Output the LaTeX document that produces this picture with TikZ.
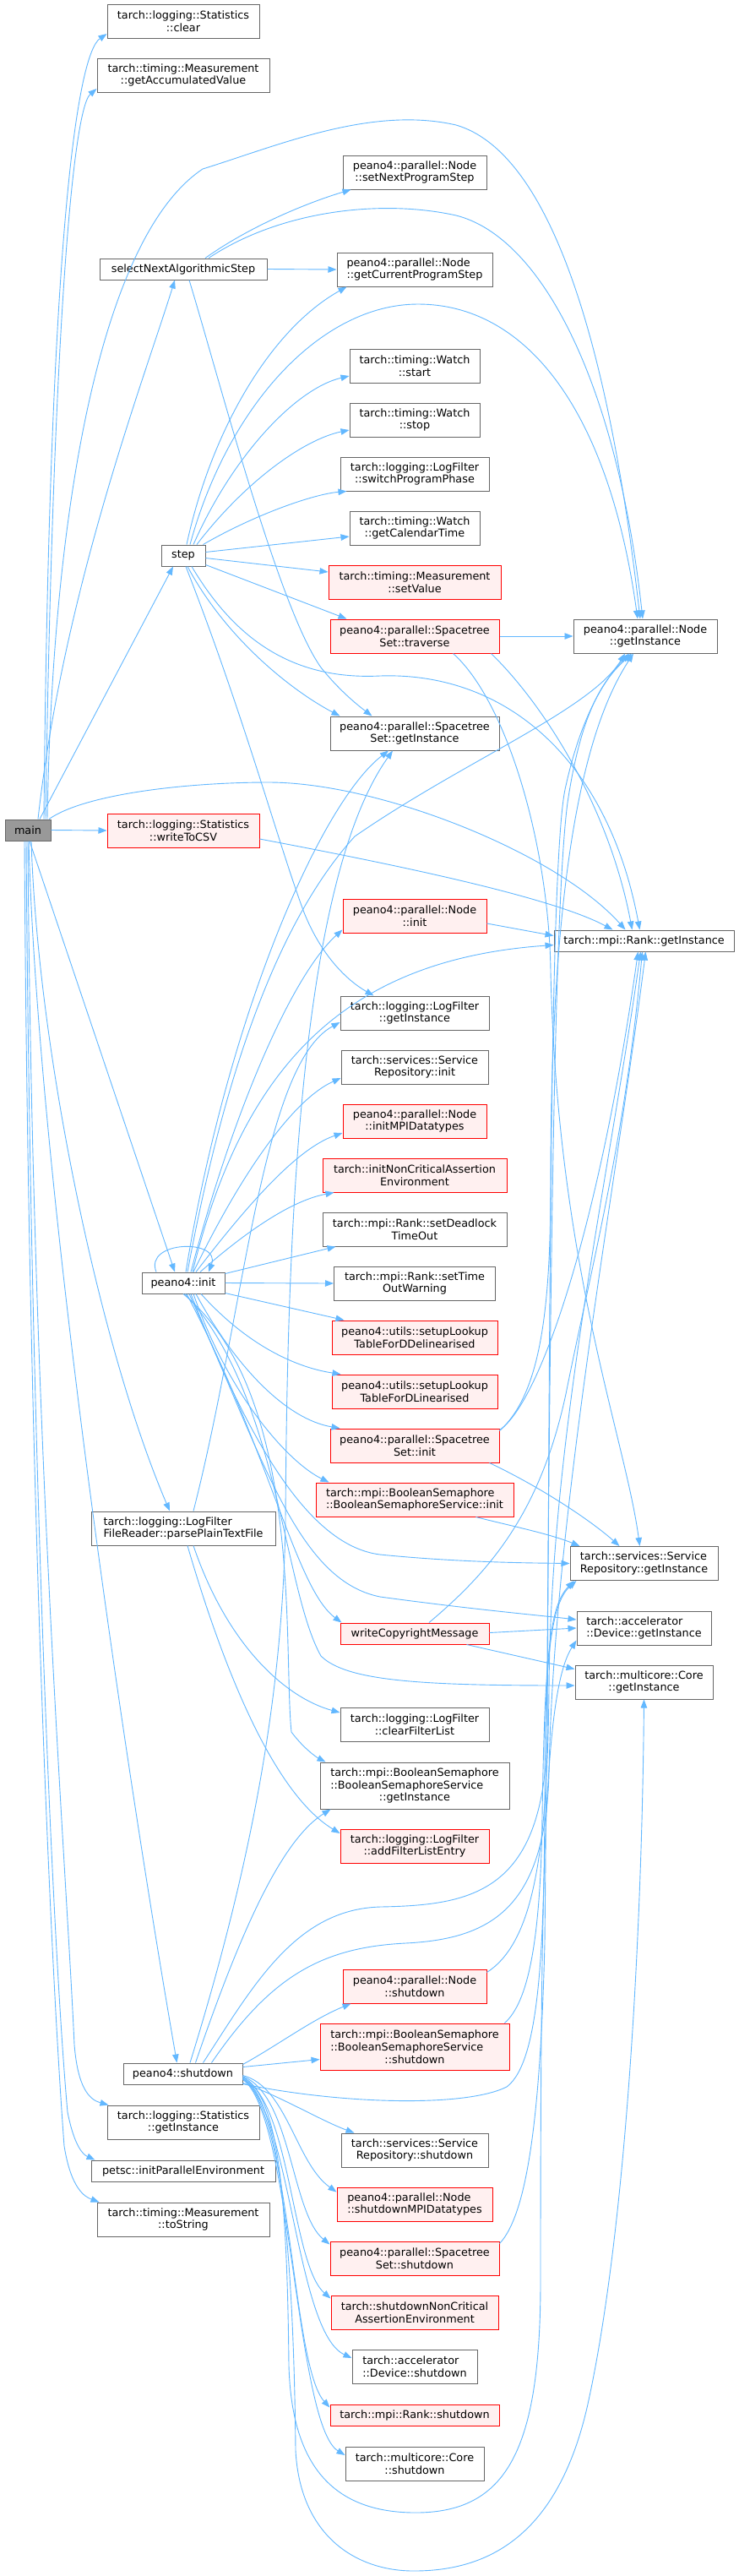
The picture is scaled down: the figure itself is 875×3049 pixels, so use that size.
\documentclass[tikz,border=0pt]{standalone}
\usepackage{fontspec}
\setmainfont{DejaVu Sans}
\usepackage{calc}
\usetikzlibrary{arrows.meta,calc}
\definecolor{edgec}{HTML}{63B8FF}
\definecolor{bordc}{HTML}{666666}
\definecolor{redfill}{HTML}{FFF0F0}
\definecolor{mainfill}{HTML}{999999}
\begin{document}
\begin{tikzpicture}[x=1pt,y=-1pt,
  box/.style={draw=bordc, fill=white, line width=1pt, inner sep=0pt, align=center, font=\fontsize{12.8}{14.7}\selectfont},
  redbox/.style={box, draw=red, fill=redfill},
  bw/.style={minimum width=#1pt},
  h1/.style={minimum height=25pt},
  h2/.style={minimum height=40pt},
  h3/.style={minimum height=55pt},
  conn/.style={draw=edgec, line width=0.9pt, -{Triangle[length=10pt,width=7.5pt]}}]
\fill[white] (0,0) rectangle (875,3049);
\useasboundingbox (0,0) rectangle (875,3049);

% ---------- nodes ----------
\node[box,fill=mainfill,bw=54,h1] (main) at (33,982.5) {main};
\node[box,bw=180,h2] (sclear) at (217,25) {tarch::logging::Statistics\\::clear};
\node[box,bw=204,h2] (accum) at (217,89) {tarch::timing::Measurement\\::getAccumulatedValue};
\node[box,bw=170,h2] (setnext) at (491,204) {peano4::parallel::Node\\::setNextProgramStep};
\node[box,bw=198,h1] (select) at (217,318.5) {selectNextAlgorithmicStep};
\node[box,bw=184,h2,align=left] (curstep) at (491,319) {peano4::parallel::Node\\::getCurrentProgramStep};
\node[box,bw=154,h2] (wstart) at (491,433) {tarch::timing::Watch\\::start};
\node[box,bw=154,h2] (wstop) at (491,497) {tarch::timing::Watch\\::stop};
\node[box,bw=176,h2] (switchp) at (491,561) {tarch::logging::LogFilter\\::switchProgramPhase};
\node[box,bw=154,h2] (calt) at (491,625) {tarch::timing::Watch\\::getCalendarTime};
\node[box,bw=52,h1] (step) at (217,657.5) {step};
\node[redbox,bw=204,h2] (setval) at (491,689) {tarch::timing::Measurement\\::setValue};
\node[redbox,bw=200,h2] (trav) at (491,753) {peano4::parallel::Spacetree\\Set::traverse};
\node[box,bw=170,h2] (ngi) at (764,753) {peano4::parallel::Node\\::getInstance};
\node[box,bw=200,h2] (ssgi) at (491,868) {peano4::parallel::Spacetree\\Set::getInstance};
\node[redbox,bw=180,h2] (csv) at (217,983) {tarch::logging::Statistics\\::writeToCSV};
\node[redbox,bw=170,h2] (ninit) at (491,1084) {peano4::parallel::Node\\::init};
\node[box,bw=213,h1] (rgi) at (762.5,1113.5) {tarch::mpi::Rank::getInstance};
\node[box,bw=176,h2] (lfgi) at (491,1199) {tarch::logging::LogFilter\\::getInstance};
\node[box,bw=174,h2] (srinit) at (491,1263) {tarch::services::Service\\Repository::init};
\node[redbox,bw=170,h2] (mpidt) at (491,1327) {peano4::parallel::Node\\::initMPIDatatypes};
\node[redbox,bw=218,h2] (ncinit) at (491,1391) {tarch::initNonCriticalAssertion\\Environment};
\node[box,bw=218,h2] (deadl) at (491,1455) {tarch::mpi::Rank::setDeadlock\\TimeOut};
\node[box,bw=191,h2] (timeo) at (491,1519) {tarch::mpi::Rank::setTime\\OutWarning};
\node[box,bw=98,h1] (pinit) at (217,1518.5) {peano4::init};
\node[redbox,bw=196,h2] (ddel) at (491,1583) {peano4::utils::setupLookup\\TableForDDelinearised};
\node[redbox,bw=196,h2] (dlin) at (491,1647) {peano4::utils::setupLookup\\TableForDLinearised};
\node[redbox,bw=200,h2] (ssinit) at (491,1711) {peano4::parallel::Spacetree\\Set::init};
\node[redbox,bw=234,h2,align=left] (bsinit) at (491,1775) {tarch::mpi::BooleanSemaphore\\::BooleanSemaphoreService::init};
\node[box,bw=218,h2,align=left] (parse) at (217,1809) {tarch::logging::LogFilter\\FileReader::parsePlainTextFile};
\node[box,bw=175,h2,align=left] (srgi) at (762.5,1850.5) {tarch::services::Service\\Repository::getInstance};
\node[redbox,bw=176,h1] (copyr) at (491,1933.5) {writeCopyrightMessage};
\node[box,bw=159,h2,align=left] (devgi) at (762.5,1927) {tarch::accelerator\\::Device::getInstance};
\node[box,bw=163,h2] (coregi) at (762.5,1991) {tarch::multicore::Core\\::getInstance};
\node[box,bw=176,h2] (clearfl) at (491,2041) {tarch::logging::LogFilter\\::clearFilterList};
\node[box,bw=224,h3,align=left] (bsgi) at (491,2113.5) {tarch::mpi::BooleanSemaphore\\::BooleanSemaphoreService\\\makebox[\widthof{tarch::mpi::BooleanSemaphore}]{::getInstance}};
\node[redbox,bw=176,h2] (addfl) at (491,2185) {tarch::logging::LogFilter\\::addFilterListEntry};
\node[redbox,bw=170,h2] (nshut) at (491,2351) {peano4::parallel::Node\\::shutdown};
\node[redbox,bw=224,h3,align=left] (bsshut) at (491,2422.5) {tarch::mpi::BooleanSemaphore\\::BooleanSemaphoreService\\\makebox[\widthof{tarch::mpi::BooleanSemaphore}]{::shutdown}};
\node[box,bw=141,h1] (pshut) at (216.5,2454.5) {peano4::shutdown};
\node[box,bw=180,h2] (statgi) at (217,2512) {tarch::logging::Statistics\\::getInstance};
\node[box,bw=218,h1] (petsc) at (217,2569.5) {petsc::initParallelEnvironment};
\node[box,bw=204,h2] (tostr) at (217,2627) {tarch::timing::Measurement\\::toString};
\node[box,bw=174,h2] (srshut) at (491,2545) {tarch::services::Service\\Repository::shutdown};
\node[redbox,bw=184,h2,align=left] (mpishut) at (491,2609) {peano4::parallel::Node\\::shutdownMPIDatatypes};
\node[redbox,bw=200,h2] (ssshut) at (491,2673) {peano4::parallel::Spacetree\\Set::shutdown};
\node[redbox,bw=198,h2] (ncshut) at (491,2737) {tarch::shutdownNonCritical\\AssertionEnvironment};
\node[box,bw=148,h2,align=left] (devshut) at (491,2801) {tarch::accelerator\\::Device::shutdown};
\node[redbox,bw=200,h1] (rshut) at (491,2858.5) {tarch::mpi::Rank::shutdown};
\node[box,bw=164,h2] (coreshut) at (491,2916) {tarch::multicore::Core\\::shutdown};

% ---------- main ----------
\draw[conn] ($(main.north)+(19,0)$) .. controls (58,300) and (90,65) .. ($(sclear.west)+(0,15)$);
\draw[conn] ($(main.north)+(21,0)$) .. controls (62,420) and (85,130) .. ($(accum.west)+(0,16)$);
\draw[conn] ($(main.north)+(23,0)$) .. controls (62,600) and (120,280) .. (240,200) .. controls (330,172) and (440,125) .. (540,148) .. controls (650,180) and (720,400) .. ($(ngi.north)+(-6,0)$);
\draw[conn] ($(main.north)+(12,0)$) .. controls (75,700) and (170,450) .. ($(select.south)+(-10,0)$);
\draw[conn] ($(main.north)+(14,0)$) -- ($(step.south)+(-12,0)$);
\draw[conn] (main.east) -- (csv.west);
\draw[conn] ($(main.north)+(25,0)$) .. controls (100,940) and (220,926) .. (318,926) .. controls (450,926) and (660,1010) .. ($(rgi.north)+(-22,0)$);
\draw[conn] ($(main.south)+(2,0)$) -- ($(pinit.north)+(-10,0)$);
\draw[conn] ($(main.south)+(4,0)$) .. controls (45,1250) and (120,1600) .. ($(parse.north)+(-16,0)$);
\draw[conn] ($(main.south)+(1,0)$) .. controls (45,1400) and (150,2100) .. ($(pshut.north)+(-7,0)$);
\draw[conn] (main.south) .. controls (38,1700) and (78,2200) .. (88,2420) .. controls (92,2470) and (105,2485) .. ($(statgi.north west)+(2,0)$);
\draw[conn] ($(main.south)+(-2,0)$) .. controls (36,1700) and (62,2300) .. (80,2500) .. controls (88,2540) and (98,2550) .. ($(petsc.north west)+(5,0)$);
\draw[conn] ($(main.south)+(-4,0)$) .. controls (33,1700) and (58,2300) .. (76,2540) .. controls (84,2590) and (100,2600) .. ($(tostr.north west)+(3,0)$);

% ---------- select ----------
\draw[conn] ($(select.north)+(26,0)$) .. controls (300,265) and (370,238) .. ($(setnext.south west)+(10,0)$);
\draw[conn] (select.east) -- (curstep.west);
\draw[conn] ($(select.north)+(30,0)$) .. controls (330,250) and (450,235) .. (540,255) .. controls (640,280) and (730,450) .. ($(ngi.north)+(-3,0)$);
\draw[conn] ($(select.south)+(7,0)$) .. controls (260,450) and (330,720) .. (380,790) .. controls (400,815) and (420,832) .. ($(ssgi.north west)+(50,0)$);

% ---------- step ----------
\draw[conn] ($(step.north)+(4,0)$) .. controls (250,510) and (320,390) .. ($(curstep.south west)+(12,0)$);
\draw[conn] ($(step.north)+(8,0)$) .. controls (270,480) and (380,360) .. (495,360) .. controls (620,360) and (720,480) .. ($(ngi.north)+(-9,0)$);
\draw[conn] ($(step.north)+(12,0)$) .. controls (275,540) and (350,460) .. ($(wstart.west)+(0,12)$);
\draw[conn] ($(step.north)+(16,0)$) .. controls (290,570) and (360,520) .. ($(wstop.west)+(0,12)$);
\draw[conn] ($(step.north east)+(-3,0)$) .. controls (300,610) and (370,585) .. ($(switchp.south west)+(8,0)$);
\draw[conn] ($(step.east)+(0,-4)$) -- ($(calt.west)+(0,10)$);
\draw[conn] ($(step.east)+(0,3)$) -- ($(setval.west)+(0,-12)$);
\draw[conn] ($(step.south east)+(0,-2)$) -- ($(trav.north west)+(20,0)$);
\draw[conn] ($(step.south)+(5,0)$) .. controls (270,760) and (350,820) .. ($(ssgi.north west)+(12,0)$);
\draw[conn] ($(step.south)+(3,0)$) .. controls (290,850) and (330,1000) .. (360,1080) .. controls (380,1130) and (410,1160) .. ($(lfgi.north west)+(40,0)$);
\draw[conn] ($(step.south)+(10,0)$) .. controls (280,760) and (350,805) .. (450,800) .. controls (600,795) and (720,900) .. ($(rgi.north)+(-5,0)$);

% ---------- traverse, csv, node init ----------
\draw[conn] (trav.east) -- (ngi.west);
\draw[conn] ($(trav.south east)+(-10,0)$) .. controls (640,830) and (720,950) .. ($(rgi.north)+(-14,0)$);
\draw[conn] ($(trav.south east)+(-55,0)$) .. controls (600,830) and (650,1000) .. (652,1150) .. controls (660,1500) and (740,1700) .. ($(srgi.north)+(-5,0)$);
\draw[conn] ($(csv.east)+(0,10)$) .. controls (450,1020) and (650,1060) .. ($(rgi.north west)+(70,0)$);
\draw[conn] ($(ninit.east)+(0,9)$) -- ($(rgi.west)+(0,-6)$);

% ---------- peano4::init ----------
\draw[conn] ($(pinit.north)+(-32,0)$) .. controls (170,1468) and (262,1466) .. ($(pinit.north)+(30,0)$);
\draw[conn] ($(pinit.north)+(5,0)$) .. controls (260,1300) and (320,1100) .. (420,990) .. controls (550,900) and (700,840) .. ($(ngi.south)+(-24,0)$);
\draw[conn] ($(pinit.north)+(3,0)$) .. controls (270,1200) and (380,950) .. ($(ssgi.south)+(-31,0)$);
\draw[conn] ($(pinit.north)+(9,0)$) .. controls (280,1300) and (350,1150) .. ($(ninit.south west)+(0,-4)$);
\draw[conn] ($(pinit.north)+(11,0)$) .. controls (290,1250) and (420,1135) .. ($(rgi.west)+(0,5)$);
\draw[conn] ($(pinit.north)+(12,0)$) .. controls (290,1380) and (350,1300) .. ($(srinit.west)+(0,13)$);
\draw[conn] ($(pinit.north)+(15,0)$) .. controls (290,1430) and (350,1360) .. ($(mpidt.west)+(0,14)$);
\draw[conn] ($(pinit.north)+(20,0)$) .. controls (300,1450) and (350,1420) .. ($(ncinit.south west)+(14,0)$);
\draw[conn] ($(pinit.north east)+(0,2)$) -- ($(deadl.south west)+(16,0)$);
\draw[conn] (pinit.east) -- (timeo.west);
\draw[conn] ($(pinit.south east)+(0,-1)$) -- ($(ddel.north west)+(15,0)$);
\draw[conn] ($(pinit.south)+(21,0)$) .. controls (300,1600) and (360,1620) .. ($(dlin.north west)+(11,0)$);
\draw[conn] ($(pinit.south)+(15,0)$) .. controls (280,1620) and (340,1680) .. ($(ssinit.north west)+(12,0)$);
\draw[conn] ($(pinit.south)+(12,0)$) .. controls (270,1650) and (340,1730) .. ($(bsinit.north west)+(16,0)$);
\draw[conn] ($(pinit.south)+(9,0)$) .. controls (300,1720) and (370,1830) .. (450,1840) .. controls (550,1850) and (640,1850) .. (srgi.west);
\draw[conn] ($(pinit.south)+(7,0)$) .. controls (310,1720) and (350,1870) .. (450,1890) .. controls (560,1905) and (640,1912) .. ($(devgi.west)+(0,-10)$);
\draw[conn] ($(pinit.south)+(4,0)$) .. controls (320,1720) and (350,1880) .. ($(copyr.north west)+(2,0)$);
\draw[conn] ($(pinit.south)+(2,0)$) .. controls (330,1650) and (335,1880) .. (380,1960) .. controls (410,1990) and (500,1995) .. ($(coregi.west)+(0,4)$);
\draw[conn] (pinit.south) .. controls (360,1650) and (335,1950) .. (345,2050) .. controls (360,2070) and (375,2080) .. ($(bsgi.north west)+(7,0)$);

% ---------- parse ----------
\draw[conn] ($(parse.north)+(12,0)$) .. controls (290,1550) and (310,1260) .. ($(lfgi.west)+(0,11)$);
\draw[conn] ($(parse.south)+(12,0)$) .. controls (270,1950) and (340,2010) .. ($(clearfl.west)+(0,-14)$);
\draw[conn] ($(parse.south)+(5,0)$) .. controls (260,1960) and (320,2120) .. ($(addfl.west)+(0,-15)$);

% ---------- init-level callees ----------
\draw[conn] ($(bsinit.south east)+(-45,0)$) .. controls (600,1805) and (650,1815) .. ($(srgi.north west)+(12,0)$);
\draw[conn] ($(ssinit.south east)+(-12,0)$) .. controls (640,1760) and (700,1800) .. ($(srgi.north)+(-29,0)$);
\draw[conn] ($(ssinit.north east)+(0,2)$) .. controls (640,1660) and (710,1450) .. ($(rgi.south)+(-7,0)$);
\draw[conn] ($(ssinit.north east)+(0,3)$) .. controls (640,1650) and (652,1550) .. (652,1400) .. controls (652,1000) and (700,850) .. ($(ngi.south)+(-14,0)$);
\draw[conn] ($(copyr.north)+(17,0)$) .. controls (580,1860) and (640,1790) .. (670,1650) .. controls (700,1500) and (740,1350) .. ($(rgi.south)+(-2,0)$);
\draw[conn] ($(copyr.east)+(0,-1)$) -- (devgi.west);
\draw[conn] ($(copyr.south east)+(-27,0)$) -- ($(coregi.north west)+(0,5)$);

% ---------- peano4::shutdown ----------
\draw[conn] ($(pshut.north)+(8.5,0)$) .. controls (300,2200) and (335,2000) .. (338,1800) .. controls (340,1500) and (350,1050) .. ($(ssgi.south)+(-26,0)$);
\draw[conn] ($(pshut.north)+(15,0)$) .. controls (280,2300) and (330,2180) .. ($(bsgi.south west)+(13,0)$);
\draw[conn] ($(pshut.north)+(24,0)$) .. controls (300,2350) and (350,2260) .. (450,2257) .. controls (560,2255) and (645,2240) .. (648,2050) .. controls (651,1500) and (652,1000) .. (670,930) .. controls (690,840) and (720,800) .. ($(ngi.south)+(-19,0)$);
\draw[conn] ($(pshut.north)+(34,0)$) .. controls (320,2340) and (380,2305) .. (480,2300) .. controls (580,2295) and (645,2260) .. (650,2100) .. controls (655,1800) and (730,1400) .. ($(rgi.south)+(2,0)$);
\draw[conn] ($(pshut.south east)+(0,-1)$) .. controls (400,2490) and (550,2495) .. (600,2470) .. controls (640,2440) and (645,2300) .. (645,2100) .. controls (645,1950) and (655,1895) .. ($(srgi.south west)+(8,0)$);
\draw[conn] ($(pshut.east)+(0,4)$) .. controls (330,2480) and (340,2600) .. (342,2800) .. controls (345,2900) and (380,2974) .. (492,2974) .. controls (600,2974) and (640,2900) .. (640,2700) .. controls (640,2200) and (645,2000) .. ($(devgi.south west)+(0,-6)$);
\draw[conn] ($(pshut.east)+(0,6)$) .. controls (335,2480) and (348,2700) .. (350,2900) .. controls (355,3000) and (420,3043) .. (490,3043) .. controls (580,3043) and (660,3000) .. (695,2850) .. controls (740,2650) and (760,2300) .. (coregi.south);
\draw[conn] ($(pshut.north east)+(0,2)$) .. controls (330,2420) and (370,2390) .. ($(nshut.south west)+(10,0)$);
\draw[conn] ($(pshut.east)+(0,-8)$) -- ($(bsshut.west)+(0,15)$);
\draw[conn] ($(pshut.south east)+(0,-2)$) .. controls (330,2480) and (380,2510) .. ($(srshut.north west)+(16,0)$);
\draw[conn] ($(pshut.east)+(0,2)$) .. controls (340,2470) and (350,2560) .. ($(mpishut.north west)+(0,6)$);
\draw[conn] ($(pshut.east)+(0,3)$) .. controls (345,2480) and (345,2620) .. ($(ssshut.north west)+(0,4)$);
\draw[conn] ($(pshut.east)+(0,4)$) .. controls (345,2490) and (345,2680) .. ($(ncshut.north west)+(0,4)$);
\draw[conn] ($(pshut.east)+(0,5)$) .. controls (345,2500) and (350,2760) .. ($(devshut.west)+(0,-10)$);
\draw[conn] ($(pshut.east)+(0,6)$) .. controls (345,2500) and (345,2800) .. ($(rshut.north west)+(0,4)$);
\draw[conn] ($(pshut.east)+(0,7)$) .. controls (345,2500) and (350,2870) .. ($(coreshut.west)+(0,-10)$);

% ---------- shutdown-level callees ----------
\draw[conn] ($(nshut.north east)+(0,4)$) .. controls (630,2300) and (648,2200) .. (650,2000) .. controls (652,1700) and (720,1400) .. ($(rgi.south)+(-4,0)$);
\draw[conn] ($(bsshut.north east)+(-6,0)$) .. controls (625,2370) and (640,2300) .. (642,2150) .. controls (645,1950) and (652,1900) .. ($(srgi.south west)+(5,0)$);
\draw[conn] ($(ssshut.north east)+(0,3)$) .. controls (625,2620) and (640,2500) .. (645,2300) .. controls (650,1800) and (652,1100) .. (672,950) .. controls (690,830) and (720,800) .. ($(ngi.south)+(-16,0)$);
\end{tikzpicture}
\end{document}
